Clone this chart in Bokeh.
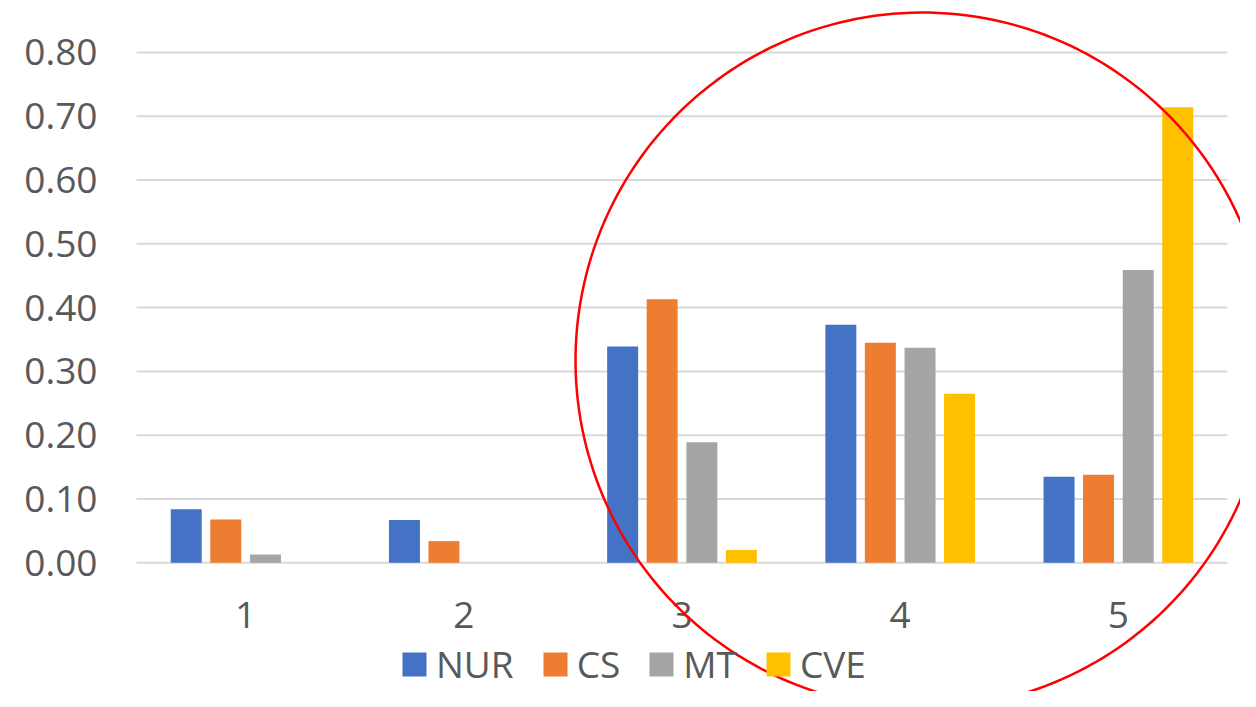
import numpy as np
from bokeh.plotting import figure
from bokeh.models import (Range1d, FixedTicker, NumeralTickFormatter, Legend,
                          LegendItem, PolyAnnotation, ColumnDataSource)
from bokeh.transform import dodge
from bokeh.embed import file_html
from bokeh.resources import INLINE

# ---- data ----
categories = [1, 2, 3, 4, 5]
category_labels = ["1", "2", "3", "4", "5"]
series_names = ["NUR", "CS", "MT", "CVE"]
nur = [0.084, 0.067, 0.339, 0.373, 0.135]
cs = [0.068, 0.034, 0.413, 0.345, 0.138]
mt = [0.013, 0.000, 0.189, 0.337, 0.459]
cve = [0.000, 0.000, 0.020, 0.265, 0.714]
y_ticks = [0.0, 0.1, 0.2, 0.3, 0.4, 0.5, 0.6, 0.7, 0.8]

colors = ["#4472C4", "#ED7D31", "#A5A5A5", "#FFC000"]
offsets = [-0.272, -0.091, 0.091, 0.272]
bar_w = 0.142
FONT = "Open Sans"
TXT = "#595959"
GRID = "#D9D9D9"

W, H = 1240, 691
# pixel geometry of the plotting area inside the canvas
px_left, px_step = 136.0, 218.2      # left edge of category band, width per category
px_zero, px_per_unit = 562.3, 638.0  # y pixel of 0.00, pixels per 1.0

x0 = categories[0] - 0.5 - px_left / px_step
x1 = x0 + W / px_step
y1 = px_zero / px_per_unit
y0 = y1 - H / px_per_unit

src = ColumnDataSource(dict(cat=categories, NUR=nur, CS=cs, MT=mt, CVE=cve))

p = figure(width=W, height=H, output_backend="svg", toolbar_location=None,
           x_range=Range1d(x0, x1), y_range=Range1d(y0, y1), min_border=0)
p.outline_line_color = None
p.background_fill_color = "white"
p.border_fill_color = "white"
p.xgrid.visible = False
p.ygrid.visible = False

# horizontal gridlines spanning the category band
band_lo, band_hi = categories[0] - 0.5, categories[-1] + 0.5
p.segment(x0=[band_lo] * len(y_ticks), x1=[band_hi] * len(y_ticks), y0=y_ticks, y1=y_ticks,
          line_color=GRID, line_width=2)

renderers = []
for name, col, off in zip(series_names, colors, offsets):
    r = p.vbar(x=dodge("cat", off), top=name, width=bar_w, bottom=0, source=src,
               fill_color=col, line_color=None)
    renderers.append(r)

# axes fixed in the plot area
p.yaxis.fixed_location = band_lo
p.yaxis.ticker = FixedTicker(ticks=y_ticks)
p.yaxis.formatter = NumeralTickFormatter(format="0.00")
p.yaxis.axis_line_color = None
p.yaxis.major_tick_line_color = None
p.yaxis.minor_tick_line_color = None
p.yaxis.major_tick_out = 0
p.yaxis.major_tick_in = 0
p.yaxis.major_label_standoff = 39
p.yaxis.major_label_text_font = FONT
p.yaxis.major_label_text_font_size = "37px"
p.yaxis.major_label_text_color = TXT

p.xaxis.fixed_location = 0
p.xaxis.ticker = FixedTicker(ticks=categories)
p.xaxis.major_label_overrides = {c: l for c, l in zip(categories, category_labels)}
p.xaxis.axis_line_color = None
p.xaxis.major_tick_line_color = None
p.xaxis.minor_tick_line_color = None
p.xaxis.major_tick_out = 0
p.xaxis.major_tick_in = 0
p.xaxis.major_label_standoff = 39
p.xaxis.major_label_text_font = FONT
p.xaxis.major_label_text_font_size = "37px"
p.xaxis.major_label_text_color = TXT

# legend
legend = Legend(items=[LegendItem(label=n, renderers=[r]) for n, r in zip(series_names, renderers)],
                orientation="horizontal", location=(399, 2),
                glyph_width=30, glyph_height=30, label_standoff=7, spacing=26,
                padding=0, margin=0, border_line_color=None, background_fill_alpha=0,
                label_text_font=FONT, label_text_font_size="37px",
                label_text_color=TXT)
p.add_layout(legend, "center")

# highlight ellipse (annotation)
t = np.linspace(0, 2 * np.pi, 240)
cx, cy, rx, ry = 4.102, 0.317, 1.590, 0.5455
p.add_layout(PolyAnnotation(xs=list(cx + rx * np.cos(t)), ys=list(cy + ry * np.sin(t)),
                            fill_alpha=0, line_color="#FF0000", line_alpha=1.0, line_width=2.5))

open("out.html", "w").write(file_html(p, INLINE))
